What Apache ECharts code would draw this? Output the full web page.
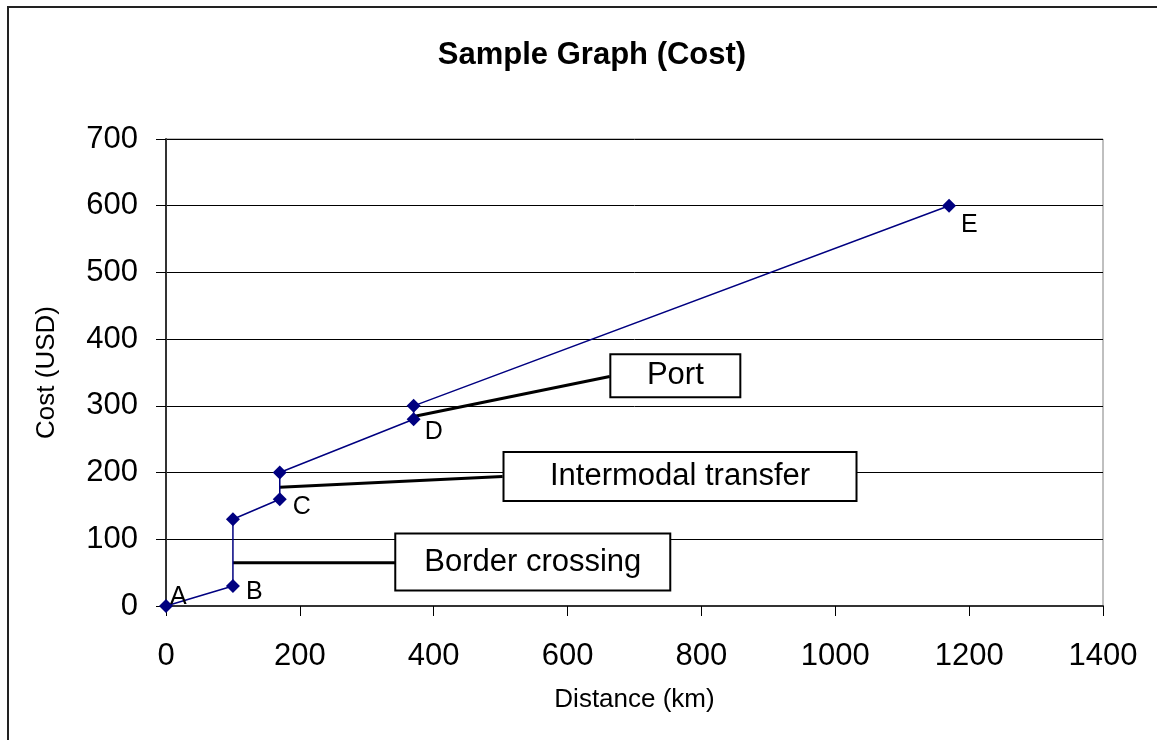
<!DOCTYPE html>
<html>
<head>
<meta charset="utf-8">
<script src="https://cdn.jsdelivr.net/npm/echarts@6/dist/echarts.min.js"></script>
<style>
html,body{margin:0;padding:0;background:#fff;}
#main{width:1157px;height:740px;}
</style>
</head>
<body>
<div id="main"></div>
<script>
// Route points: [distance km, cost USD]
const distances = [0, 100, 100, 170, 170, 370, 370, 1170];
const costs = [0, 30, 130, 160, 200, 280, 300, 600];
const pointLabels = ['A', 'B', '', 'C', '', 'D', '', 'E'];

// Callouts: leader line start/end and box centre (data units)
const calloutNames = ['Border crossing', 'Intermodal transfer', 'Port'];
const calloutFrom = [[100, 65], [170, 178], [370, 284]];
const calloutTo = [[343, 65], [503, 194], [663, 344]];
const calloutBox = [[548, 66], [768, 194], [761, 345]];

const xTicks = [0, 200, 400, 600, 800, 1000, 1200, 1400];
const yTicks = [0, 100, 200, 300, 400, 500, 600, 700];

// styling (not data)
const calloutBoxW = [277, 355, 132];
const calloutBoxH = [59, 51, 45];
const labelOffsets = [[11, -14], [20, 1], null, [20, 2], null, [18, 7], null, [19, 14]];
const FONT = '"Liberation Sans", Arial, sans-serif';

const chart = echarts.init(document.getElementById('main'));

const mainData = distances.map((d, i) => ({
  value: [d, costs[i]],
  label: {
    show: pointLabels[i] !== '',
    formatter: pointLabels[i],
    position: labelOffsets[i] || 'right'
  }
}));

const series = [];
calloutNames.forEach((n, k) => {
  series.push({
    type: 'line',
    data: [calloutFrom[k], calloutTo[k]],
    symbol: 'none',
    lineStyle: { color: '#000', width: 3 },
    z: 3,
    silent: true
  });
});
series.push({
  type: 'line',
  data: mainData,
  symbol: 'diamond',
  symbolSize: 14,
  itemStyle: { color: '#000080' },
  lineStyle: { color: '#000080', width: 1.5 },
  label: { color: '#000', fontSize: 25, fontFamily: FONT, align: 'left', verticalAlign: 'top' },
  z: 5
});
series.push({
  type: 'scatter',
  symbolSize: 1,
  itemStyle: { opacity: 1, color: 'transparent' },
  data: calloutBox.map((c, k) => ({
    value: c,
    label: {
      show: true,
      position: 'inside',
      formatter: calloutNames[k],
      width: calloutBoxW[k] - 4,
      height: calloutBoxH[k] - 4,
      lineHeight: calloutBoxH[k] - 4,
      align: 'center',
      verticalAlign: 'middle',
      backgroundColor: '#fff',
      borderColor: '#000',
      borderWidth: 2,
      padding: 0,
      color: '#000',
      opacity: 1,
      textBorderWidth: 0,
      fontSize: 31,
      fontFamily: FONT
    }
  })),
  z: 10,
  silent: true
});

chart.setOption({
  animation: false,
  backgroundColor: '#fff',
  title: {
    text: 'Sample Graph (Cost)',
    left: 587,
    textAlign: 'center',
    top: 35,
    textStyle: { fontSize: 31, fontWeight: 'bold', color: '#000', fontFamily: FONT }
  },
  graphic: [{
    type: 'rect',
    shape: { x: 8, y: 7, width: 1300, height: 900 },
    style: { fill: null, stroke: '#222', lineWidth: 2 },
    silent: true
  }],
  grid: {
    left: 166, right: 54, top: 139, bottom: 134,
    show: true, borderColor: '#808080', borderWidth: 1
  },
  xAxis: {
    type: 'value', min: 0, max: 1400, interval: 200,
    name: 'Distance (km)', nameLocation: 'middle', nameGap: 81,
    nameTextStyle: { fontSize: 26, color: '#000', fontFamily: FONT },
    axisLine: { show: true, lineStyle: { color: '#333', width: 2 } },
    axisTick: { show: true, length: 10, inside: false, lineStyle: { color: '#000' } },
    axisLabel: { fontSize: 31, color: '#000', margin: 35, fontFamily: FONT,
      formatter: v => String(v) },
    splitLine: { show: false }
  },
  yAxis: {
    type: 'value', min: 0, max: 700, interval: 100,
    name: 'Cost (USD)', nameLocation: 'middle', nameGap: 106,
    nameTextStyle: { fontSize: 26, color: '#000', fontFamily: FONT },
    axisLine: { show: true, lineStyle: { color: '#333', width: 2 } },
    axisTick: { show: true, length: 10, inside: false, lineStyle: { color: '#000' } },
    axisLabel: { fontSize: 31, color: '#000', margin: 28, fontFamily: FONT,
      formatter: v => String(v) },
    splitLine: { show: true, lineStyle: { color: '#000', width: 1 } }
  },
  series: series
});
</script>
</body>
</html>
